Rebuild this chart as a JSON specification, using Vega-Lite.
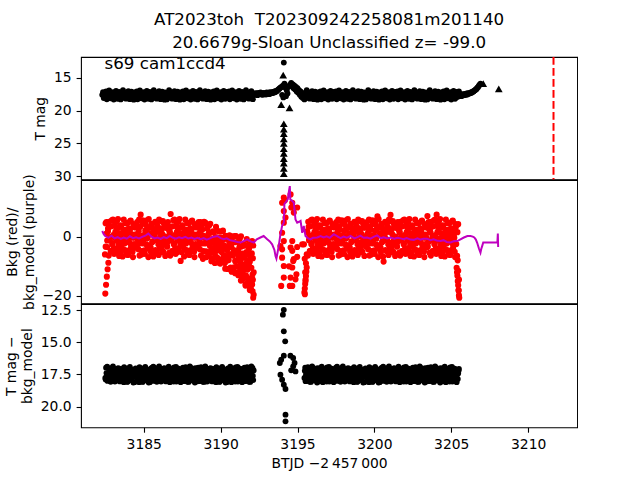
{
"$schema": "https://vega.github.io/schema/vega-lite/v6.json",
"padding": {"left": 3, "top": 10, "right": 0, "bottom": 0},
"spacing": 0,
"bounds": "flush",
"datasets": {
"lim": [
{"t":3194.07,"ul":14.6},{"t":3193.94,"ul":19.1},{"t":3194.48,"ul":19.6},
{"t":3194.11,"ul":22.0},{"t":3194.11,"ul":22.8},{"t":3194.11,"ul":23.5},{"t":3194.11,"ul":24.3},{"t":3194.11,"ul":25.0},{"t":3194.11,"ul":25.8},{"t":3194.11,"ul":26.5},{"t":3194.11,"ul":27.3},{"t":3194.11,"ul":28.0},{"t":3194.11,"ul":28.8},{"t":3194.11,"ul":29.6},
{"t":3207.08,"ul":15.9},{"t":3208.09,"ul":16.7}
],
"model": [
{"t":3182.3,"bm":1.9},{"t":3182.4,"bm":0.8},{"t":3182.5,"bm":0.2},{"t":3182.7,"bm":-0.4},{"t":3182.9,"bm":0.3},{"t":3183.1,"bm":-0.6},{"t":3183.3,"bm":-0.2},{"t":3183.5,"bm":-0.8},{"t":3183.7,"bm":-0.3},{"t":3183.9,"bm":-0.7},{"t":3184.1,"bm":0.1},{"t":3184.3,"bm":-0.5},{"t":3184.5,"bm":-0.2},{"t":3184.7,"bm":-0.6},{"t":3184.9,"bm":-0.1},{"t":3185.1,"bm":0.3},{"t":3185.3,"bm":1.0},{"t":3185.5,"bm":0.0},{"t":3185.7,"bm":-0.6},{"t":3185.9,"bm":-0.3},{"t":3186.1,"bm":-0.8},{"t":3186.3,"bm":-0.2},{"t":3186.5,"bm":-0.5},{"t":3186.7,"bm":0.2},{"t":3186.9,"bm":-0.4},{"t":3187.1,"bm":-0.7},{"t":3187.3,"bm":-0.2},{"t":3187.5,"bm":-0.5},{"t":3187.7,"bm":-0.1},{"t":3187.9,"bm":-0.6},{"t":3188.1,"bm":-0.3},{"t":3188.3,"bm":-0.8},{"t":3188.5,"bm":-0.4},{"t":3188.7,"bm":-0.9},{"t":3188.9,"bm":-0.5},{"t":3189.1,"bm":-1.0},{"t":3189.3,"bm":-0.6},{"t":3189.5,"bm":-0.1},{"t":3189.8,"bm":0.2},{"t":3190.0,"bm":-0.5},{"t":3190.2,"bm":-0.9},{"t":3190.4,"bm":-0.6},{"t":3190.6,"bm":-1.2},{"t":3190.86,"bm":-1.5},{"t":3191.1,"bm":-1.8},{"t":3191.3,"bm":-2.0},{"t":3191.5,"bm":-1.5},{"t":3191.73,"bm":-0.9},{"t":3191.95,"bm":-1.6},{"t":3192.16,"bm":-2.0},{"t":3192.35,"bm":-0.9},{"t":3192.59,"bm":-0.3},{"t":3192.8,"bm":0.2},{"t":3193.03,"bm":-0.9},{"t":3193.2,"bm":-1.6},{"t":3193.35,"bm":-2.6},{"t":3193.5,"bm":-4.5},{"t":3193.57,"bm":-6.5},{"t":3193.63,"bm":-7.4},{"t":3193.78,"bm":-3.2},{"t":3193.89,"bm":0.8},{"t":3194.0,"bm":3.6},{"t":3194.11,"bm":4.7},{"t":3194.15,"bm":11.0},{"t":3194.22,"bm":11.4},{"t":3194.37,"bm":12.6},{"t":3194.45,"bm":15.5},{"t":3194.5,"bm":17.0},{"t":3194.53,"bm":12.6},{"t":3194.66,"bm":12.0},{"t":3194.76,"bm":11.4},{"t":3194.87,"bm":5.8},{"t":3194.98,"bm":4.7},{"t":3195.1,"bm":5.0},{"t":3195.2,"bm":5.3},{"t":3195.31,"bm":1.3},{"t":3195.41,"bm":3.6},{"t":3195.52,"bm":0.2},{"t":3195.7,"bm":-0.6},{"t":3195.85,"bm":-0.9},{"t":3196.0,"bm":-0.4},{"t":3196.28,"bm":-0.3},{"t":3196.5,"bm":0.2},{"t":3196.7,"bm":-0.3},{"t":3196.9,"bm":0.1},{"t":3197.1,"bm":-0.4},{"t":3197.36,"bm":0.8},{"t":3197.6,"bm":0.1},{"t":3197.8,"bm":-0.5},{"t":3198.0,"bm":0.0},{"t":3198.2,"bm":-0.4},{"t":3198.45,"bm":0.2},{"t":3198.7,"bm":-0.6},{"t":3198.9,"bm":-0.2},{"t":3199.1,"bm":0.3},{"t":3199.3,"bm":-0.4},{"t":3199.53,"bm":-0.3},{"t":3199.75,"bm":-0.7},{"t":3199.95,"bm":-0.1},{"t":3200.18,"bm":0.4},{"t":3200.4,"bm":-0.5},{"t":3200.6,"bm":-0.2},{"t":3200.83,"bm":-0.6},{"t":3201.05,"bm":-0.3},{"t":3201.3,"bm":-0.7},{"t":3201.5,"bm":-0.4},{"t":3201.7,"bm":-0.6},{"t":3201.9,"bm":-0.9},{"t":3202.1,"bm":-0.5},{"t":3202.35,"bm":-1.0},{"t":3202.56,"bm":-1.1},{"t":3202.8,"bm":-0.6},{"t":3203.0,"bm":-1.0},{"t":3203.2,"bm":-0.7},{"t":3203.43,"bm":-0.7},{"t":3203.65,"bm":-1.2},{"t":3203.85,"bm":-0.9},{"t":3204.05,"bm":-1.3},{"t":3204.3,"bm":-1.5},{"t":3204.5,"bm":-1.2},{"t":3204.7,"bm":-1.8},{"t":3204.95,"bm":-2.0},{"t":3205.15,"bm":-1.6},{"t":3205.39,"bm":-1.5},{"t":3205.6,"bm":-0.9},{"t":3205.82,"bm":-0.3},{"t":3206.05,"bm":0.2},{"t":3206.25,"bm":0.2},{"t":3206.4,"bm":0.0},{"t":3206.5,"bm":-0.3},{"t":3206.6,"bm":-1.0},{"t":3206.68,"bm":-2.0},{"t":3206.8,"bm":-4.0},{"t":3206.9,"bm":-5.4},{"t":3206.95,"bm":-4.2},{"t":3207.01,"bm":-3.2},{"t":3207.08,"bm":-2.0},{"t":3207.5,"bm":-2.0},{"t":3208.0,"bm":-2.0},{"t":3208.03,"bm":1.0},{"t":3208.05,"bm":-3.5}
],
"obs": [
{"t":3182.3,"m":17.6},{"t":3182.35,"m":17.2},{"t":3182.4,"m":18.1},{"t":3182.45,"m":17.45},
{"t":3182.48,"b":-6.0},{"t":3182.52,"b":4.5},{"t":3182.58,"b":1.0},{"t":3182.62,"b":-3.5},{"t":3182.68,"b":2.8},
{"t":3182.5,"m":17.85,"b":-19.2,"d":17.77},
{"t":3182.55,"m":17.08,"b":-16.2,"d":16.97},
{"t":3182.6,"m":18.28,"b":-13.5,"d":17.58},
{"t":3182.65,"m":17.51,"b":-11,"d":18},
{"t":3182.7,"m":18.03,"b":-8.8,"d":17.46},
{"t":3182.75,"m":16.92,"b":5,"d":17.1},
{"t":3182.8,"m":17.67,"b":-1.2,"d":17.74},
{"t":3182.85,"m":18.12,"b":-4.9,"d":18.07},
{"t":3182.9,"m":17.31,"b":3.5,"d":17.28},
{"t":3182.95,"m":17.79,"b":-2.6,"d":17.51},
{"t":3183,"m":17.19,"b":5.7,"d":16.88},
{"t":3183.05,"m":18.33,"b":-3.9,"d":17.86},
{"t":3183.1,"m":17.42,"b":0.1,"d":17.61},
{"t":3183.15,"m":17.94,"b":1.5,"d":17.19},
{"t":3183.2,"m":16.99,"b":-5.2,"d":17.97},
{"t":3183.25,"m":17.71,"b":5.2,"d":17.37},
{"t":3183.3,"m":18.21,"b":-1.5,"d":17.8},
{"t":3183.35,"m":17.58,"b":3,"d":17.01},
{"t":3183.4,"m":17.15,"b":-6.5,"d":17.68},
{"t":3183.45,"m":17.91,"b":0,"d":18.04},
{"t":3183.5,"m":18.3,"b":3.8,"d":17.43},
{"t":3183.55,"m":17.36,"b":-3.2,"d":17.07},
{"t":3183.6,"m":17.64,"b":0.9,"d":17.88},
{"t":3183.65,"m":16.89,"b":-4.3,"d":17.29},
{"t":3183.7,"m":18.05,"b":5.7,"d":18.1},
{"t":3183.75,"m":17.76,"b":-2.3,"d":17.17},
{"t":3183.8,"m":17.25,"b":2.3,"d":17.56},
{"t":3183.85,"m":18.18,"b":-6,"d":17.7},
{"t":3183.9,"m":17.46,"b":0.3,"d":17.05},
{"t":3183.95,"m":17.97,"b":4.6,"d":18.05},
{"t":3184,"m":17.04,"b":-0.9,"d":17.41},
{"t":3184.05,"m":17.84,"b":-4.6,"d":17.84},
{"t":3184.1,"m":18.26,"b":2,"d":16.91},
{"t":3184.15,"m":17.54,"b":5.4,"d":17.54},
{"t":3184.2,"m":17.11,"b":-2.8,"d":17.92},
{"t":3184.25,"m":18.08,"b":-0.4,"d":17.24},
{"t":3184.3,"m":17.37,"b":-6.9,"d":17.64},
{"t":3184.35,"m":18.34,"b":3.2,"d":17.13},
{"t":3184.4,"m":17.23,"b":0.7,"d":18.1},
{"t":3184.45,"m":17.69,"b":-3.7,"d":17.33},
{"t":3184.5,"m":17.85,"b":3.8,"d":17.43},
{"t":3184.55,"m":17.08,"b":-3.2,"d":17.07},
{"t":3184.6,"m":18.28,"b":0.9,"d":17.88},
{"t":3184.65,"m":17.51,"b":-4.3,"d":17.29},
{"t":3184.7,"m":18.03,"b":5.7,"d":18.1},
{"t":3184.75,"m":16.92,"b":-2.3,"d":17.17},
{"t":3184.8,"m":17.67,"b":7.4,"d":17.56},
{"t":3184.85,"m":18.12,"b":-6,"d":17.7},
{"t":3184.9,"m":17.31,"b":0.3,"d":17.05},
{"t":3184.95,"m":17.79,"b":4.6,"d":18.05},
{"t":3185,"m":17.19,"b":-0.9,"d":17.41},
{"t":3185.05,"m":18.33,"b":-4.6,"d":17.84},
{"t":3185.1,"m":17.42,"b":2,"d":16.91},
{"t":3185.15,"m":17.94,"b":5.4,"d":17.54},
{"t":3185.2,"m":16.99,"b":-2.8,"d":17.92},
{"t":3185.25,"m":17.71,"b":-0.4,"d":17.24},
{"t":3185.3,"m":18.21,"b":-6.9,"d":17.64},
{"t":3185.35,"m":17.58,"b":3.2,"d":17.13},
{"t":3185.4,"m":17.15,"b":0.7,"d":18.1},
{"t":3185.45,"m":17.91,"b":-3.7,"d":17.33},
{"t":3185.5,"m":18.3,"b":4.3,"d":17.77},
{"t":3185.55,"m":17.36,"b":-1.9,"d":16.97},
{"t":3185.6,"m":17.64,"b":2.6,"d":17.58},
{"t":3185.65,"m":16.89,"b":-5.5,"d":18},
{"t":3185.7,"m":18.05,"b":1.4,"d":17.46},
{"t":3185.75,"m":17.76,"b":5,"d":17.1},
{"t":3185.8,"m":17.25,"b":-1.2,"d":17.74},
{"t":3185.85,"m":18.18,"b":-4.9,"d":18.07},
{"t":3185.9,"m":17.46,"b":3.5,"d":17.28},
{"t":3185.95,"m":17.97,"b":-2.6,"d":17.51},
{"t":3186,"m":17.04,"b":5.7,"d":16.88},
{"t":3186.05,"m":17.84,"b":-3.9,"d":17.86},
{"t":3186.1,"m":18.26,"b":0.1,"d":17.61},
{"t":3186.15,"m":17.54,"b":1.5,"d":17.19},
{"t":3186.2,"m":17.11,"b":-5.2,"d":17.97},
{"t":3186.25,"m":18.08,"b":5.2,"d":17.37},
{"t":3186.3,"m":17.37,"b":-1.5,"d":17.8},
{"t":3186.35,"m":18.34,"b":3,"d":17.01},
{"t":3186.4,"m":17.23,"b":-6.5,"d":17.68},
{"t":3186.45,"m":17.69,"b":0,"d":18.04},
{"t":3186.5,"m":18.3,"b":4.3,"d":17.43},
{"t":3186.55,"m":17.36,"b":-1.9,"d":17.07},
{"t":3186.6,"m":17.64,"b":2.6,"d":17.88},
{"t":3186.65,"m":16.89,"b":-5.5,"d":17.29},
{"t":3186.7,"m":18.05,"b":1.4,"d":18.1},
{"t":3186.75,"m":17.76,"b":7.6,"d":17.17},
{"t":3186.8,"m":17.25,"b":-1.2,"d":17.56},
{"t":3186.85,"m":18.18,"b":-4.9,"d":17.7},
{"t":3186.9,"m":17.46,"b":3.5,"d":17.05},
{"t":3186.95,"m":17.97,"b":-2.6,"d":18.05},
{"t":3187,"m":17.04,"b":5.7,"d":17.41},
{"t":3187.05,"m":17.84,"b":-3.9,"d":17.84},
{"t":3187.1,"m":18.26,"b":0.1,"d":16.91},
{"t":3187.15,"m":17.54,"b":1.5,"d":17.54},
{"t":3187.2,"m":17.11,"b":-5.2,"d":17.92},
{"t":3187.25,"m":18.08,"b":5.2,"d":17.24},
{"t":3187.3,"m":17.37,"b":-1.5,"d":17.64},
{"t":3187.35,"m":18.34,"b":3,"d":17.13},
{"t":3187.4,"m":17.23,"b":-8.2,"d":18.1},
{"t":3187.45,"m":17.69,"b":0,"d":17.33},
{"t":3187.5,"m":17.85,"b":3.8,"d":17.77},
{"t":3187.55,"m":17.08,"b":-3.2,"d":16.97},
{"t":3187.6,"m":18.28,"b":0.9,"d":17.58},
{"t":3187.65,"m":17.51,"b":-4.3,"d":18},
{"t":3187.7,"m":18.03,"b":5.7,"d":17.46},
{"t":3187.75,"m":16.92,"b":-2.3,"d":17.1},
{"t":3187.8,"m":17.67,"b":2.3,"d":17.74},
{"t":3187.85,"m":18.12,"b":-6,"d":18.07},
{"t":3187.9,"m":17.31,"b":0.3,"d":17.28},
{"t":3187.95,"m":17.79,"b":4.6,"d":17.51},
{"t":3188,"m":17.19,"b":-0.9,"d":16.88},
{"t":3188.05,"m":18.33,"b":-4.6,"d":17.86},
{"t":3188.1,"m":17.42,"b":2,"d":17.61},
{"t":3188.15,"m":17.94,"b":5.4,"d":17.19},
{"t":3188.2,"m":16.99,"b":-2.8,"d":17.97},
{"t":3188.25,"m":17.71,"b":-0.4,"d":17.37},
{"t":3188.3,"m":18.21,"b":-6.9,"d":17.8},
{"t":3188.35,"m":17.58,"b":3.2,"d":17.01},
{"t":3188.4,"m":17.15,"b":0.7,"d":17.68},
{"t":3188.45,"m":17.91,"b":-3.7,"d":18.04},
{"t":3188.5,"m":18.3,"b":3.8,"d":17.77},
{"t":3188.55,"m":17.36,"b":-3.2,"d":16.97},
{"t":3188.6,"m":17.64,"b":0.9,"d":17.58},
{"t":3188.65,"m":16.89,"b":-4.3,"d":18},
{"t":3188.7,"m":18.05,"b":4.9,"d":17.46},
{"t":3188.75,"m":17.76,"b":-2.3,"d":17.1},
{"t":3188.8,"m":17.25,"b":2.3,"d":17.74},
{"t":3188.85,"m":18.18,"b":-7.5,"d":18.07},
{"t":3188.9,"m":17.46,"b":0.3,"d":17.28},
{"t":3188.95,"m":17.97,"b":4.6,"d":17.51},
{"t":3189,"m":17.04,"b":4.7,"d":16.88},
{"t":3189.05,"m":17.84,"b":-5,"d":17.86},
{"t":3189.1,"m":18.26,"b":-1.1,"d":17.61},
{"t":3189.15,"m":17.54,"b":0.2,"d":17.19},
{"t":3189.2,"m":17.11,"b":-6.6,"d":17.97},
{"t":3189.25,"m":18.08,"b":3.7,"d":17.37},
{"t":3189.3,"m":17.37,"b":-3.1,"d":17.8},
{"t":3189.35,"m":18.34,"b":1.3,"d":17.01},
{"t":3189.4,"m":17.23,"b":-8.3,"d":17.68},
{"t":3189.45,"m":17.69,"b":-1.9,"d":18.04},
{"t":3189.5,"m":17.85,"b":1.8,"d":17.43},
{"t":3189.55,"m":17.08,"b":-5.3,"d":17.07},
{"t":3189.6,"m":18.28,"b":-1.3,"d":17.88},
{"t":3189.65,"m":17.51,"b":-6.6,"d":17.29},
{"t":3189.7,"m":18.03,"b":3.3,"d":18.1},
{"t":3189.75,"m":16.92,"b":-4.8,"d":17.17},
{"t":3189.8,"m":17.67,"b":-0.3,"d":17.56},
{"t":3189.85,"m":18.12,"b":-8.7,"d":17.7},
{"t":3189.9,"m":17.31,"b":-2.5,"d":17.05},
{"t":3189.95,"m":17.79,"b":1.7,"d":18.05},
{"t":3190,"m":17.19,"b":-3.9,"d":17.41},
{"t":3190.05,"m":18.33,"b":-7.7,"d":17.84},
{"t":3190.1,"m":17.42,"b":-1.3,"d":16.91},
{"t":3190.15,"m":17.94,"b":2,"d":17.54},
{"t":3190.2,"m":16.99,"b":-6.3,"d":17.92},
{"t":3190.25,"m":17.71,"b":-4.1,"d":17.24},
{"t":3190.3,"m":18.21,"b":-10.8,"d":17.64},
{"t":3190.35,"m":17.58,"b":-0.7,"d":17.13},
{"t":3190.4,"m":17.15,"b":-3.4,"d":18.1},
{"t":3190.45,"m":17.91,"b":-8,"d":17.33},
{"t":3190.5,"m":17.85,"b":0,"d":17.43},
{"t":3190.55,"m":17.08,"b":-6.4,"d":17.07},
{"t":3190.6,"m":18.28,"b":-2,"d":17.88},
{"t":3190.65,"m":17.51,"b":-10.4,"d":17.29},
{"t":3190.7,"m":18.03,"b":-3.5,"d":18.1},
{"t":3190.75,"m":16.92,"b":0.1,"d":17.17},
{"t":3190.8,"m":17.67,"b":-6.4,"d":17.56},
{"t":3190.85,"m":18.12,"b":-10.4,"d":17.7},
{"t":3190.9,"m":17.31,"b":-1.9,"d":17.05},
{"t":3190.95,"m":17.79,"b":-8.3,"d":18.05},
{"t":3191,"m":17.19,"b":0.2,"d":17.41},
{"t":3191.05,"m":18.33,"b":-10,"d":17.84},
{"t":3191.1,"m":17.42,"b":-5.9,"d":16.91},
{"t":3191.15,"m":17.94,"b":-4.5,"d":17.54},
{"t":3191.2,"m":16.99,"b":-12,"d":17.92},
{"t":3191.25,"m":17.71,"b":-0.6,"d":17.24},
{"t":3191.3,"m":18.21,"b":-8.3,"d":17.64},
{"t":3191.35,"m":17.58,"b":-3.3,"d":17.13},
{"t":3191.4,"m":17.15,"b":-14.5,"d":18.1},
{"t":3191.45,"m":17.91,"b":-7.1,"d":17.33},
{"t":3191.5,"m":18.3,"b":-2.6,"d":17.77},
{"t":3191.55,"m":17.36,"b":-11.2,"d":16.97},
{"t":3191.6,"m":17.64,"b":-6.4,"d":17.58},
{"t":3191.65,"m":16.89,"b":-13.1,"d":18},
{"t":3191.7,"m":18.05,"b":-0.8,"d":17.46},
{"t":3191.75,"m":17.76,"b":-11.1,"d":17.1},
{"t":3191.8,"m":17.25,"b":-5.4,"d":17.74},
{"t":3191.85,"m":18.18,"b":-16.6,"d":18.07},
{"t":3191.9,"m":17.46,"b":-8.5,"d":17.28},
{"t":3191.95,"m":17.97,"b":-2.8,"d":17.51},
{"t":3192,"m":17.04,"b":-10.5,"d":16.88},
{"t":3192.05,"m":17.84,"b":-16.1,"d":17.86},
{"t":3192.1,"m":18.26,"b":-7.3,"d":17.61},
{"t":3192.15,"m":17.54,"b":-19.6,"d":17.19},
{"t":3182.525,"b":-3.4,"d":17.89},{"t":3182.575,"b":4.9,"d":17.39},{"t":3182.625,"b":-1.3,"d":16.9},{"t":3182.675,"b":1.8,"d":17.76},{"t":3182.725,"b":-6.4,"d":17.55},{"t":3182.775,"b":3.3,"d":17.11},{"t":3182.825,"b":-0.2,"d":17.99},{"t":3182.875,"b":-4.9,"d":17.45},{"t":3182.925,"b":5.5,"d":17.71},{"t":3182.975,"b":-2.3,"d":16.95},
{"t":3183.025,"b":0.5,"d":17.82},{"t":3183.075,"b":-5.8,"d":17.35},{"t":3183.125,"b":4.0,"d":18.05},{"t":3183.175,"b":-0.7,"d":17.19},{"t":3183.225,"b":2.6,"d":17.62},{"t":3183.275,"b":-4.1,"d":17.05},{"t":3183.325,"b":5.9,"d":17.95},{"t":3183.375,"b":-3.0,"d":17.3},{"t":3183.425,"b":1.1,"d":17.51},{"t":3183.475,"b":-5.3,"d":17.85},
{"t":3183.525,"b":3.5,"d":17.22},{"t":3183.575,"b":-1.6,"d":18.02},{"t":3183.625,"b":-6.7,"d":17.42},{"t":3183.675,"b":2.2,"d":17.73},{"t":3183.725,"b":0.0,"d":16.93},{"t":3183.775,"b":-4.5,"d":17.87},{"t":3183.825,"b":4.5,"d":17.53},{"t":3183.875,"b":-1.0,"d":17.08},{"t":3183.925,"b":1.6,"d":18.08},{"t":3183.975,"b":-6.2,"d":17.32},
{"t":3184.025,"b":2.8,"d":17.59},{"t":3184.075,"b":-2.1,"d":16.99},{"t":3184.125,"b":5.2,"d":17.93},{"t":3184.175,"b":-3.7,"d":17.48},{"t":3184.225,"b":0.7,"d":17.8},{"t":3184.275,"b":-5.1,"d":17.15},{"t":3184.325,"b":4.2,"d":18.12},{"t":3184.375,"b":-2.5,"d":17.26},{"t":3184.425,"b":-0.4,"d":17.65},{"t":3184.475,"b":3.1,"d":17.03},
{"t":3184.525,"b":-3.4,"d":17.22},{"t":3184.575,"b":4.9,"d":18.02},{"t":3184.625,"b":-1.3,"d":17.42},{"t":3184.675,"b":1.8,"d":17.73},{"t":3184.725,"b":-6.4,"d":16.93},{"t":3184.775,"b":3.3,"d":17.87},{"t":3184.825,"b":-0.2,"d":17.53},{"t":3184.875,"b":-4.9,"d":17.08},{"t":3184.925,"b":5.5,"d":18.08},{"t":3184.975,"b":-2.3,"d":17.32},
{"t":3185.025,"b":0.5,"d":17.59},{"t":3185.075,"b":-5.8,"d":16.99},{"t":3185.125,"b":4.0,"d":17.93},{"t":3185.175,"b":-0.7,"d":17.48},{"t":3185.225,"b":2.6,"d":17.8},{"t":3185.275,"b":-4.1,"d":17.15},{"t":3185.325,"b":5.9,"d":18.12},{"t":3185.375,"b":-3.0,"d":17.26},{"t":3185.425,"b":1.1,"d":17.65},{"t":3185.475,"b":-5.3,"d":17.03},
{"t":3185.525,"b":3.5,"d":17.89},{"t":3185.575,"b":-1.6,"d":17.39},{"t":3185.625,"b":-6.7,"d":16.9},{"t":3185.675,"b":2.2,"d":17.76},{"t":3185.725,"b":0.0,"d":17.55},{"t":3185.775,"b":-4.5,"d":17.11},{"t":3185.825,"b":4.5,"d":17.99},{"t":3185.875,"b":-1.0,"d":17.45},{"t":3185.925,"b":1.6,"d":17.71},{"t":3185.975,"b":-6.2,"d":16.95},
{"t":3186.025,"b":2.8,"d":17.82},{"t":3186.075,"b":-2.1,"d":17.35},{"t":3186.125,"b":5.2,"d":18.05},{"t":3186.175,"b":-3.7,"d":17.19},{"t":3186.225,"b":0.7,"d":17.62},{"t":3186.275,"b":-5.1,"d":17.05},{"t":3186.325,"b":4.2,"d":17.95},{"t":3186.375,"b":-2.5,"d":17.3},{"t":3186.425,"b":-0.4,"d":17.51},{"t":3186.475,"b":3.1,"d":17.85},
{"t":3186.525,"b":-3.4,"d":17.89},{"t":3186.575,"b":4.9,"d":17.39},{"t":3186.625,"b":-1.3,"d":16.9},{"t":3186.675,"b":1.8,"d":17.76},{"t":3186.725,"b":-6.4,"d":17.55},{"t":3186.775,"b":3.3,"d":17.11},{"t":3186.825,"b":-0.2,"d":17.99},{"t":3186.875,"b":-4.9,"d":17.45},{"t":3186.925,"b":5.5,"d":17.71},{"t":3186.975,"b":-2.3,"d":16.95},
{"t":3187.025,"b":0.5,"d":17.82},{"t":3187.075,"b":-5.8,"d":17.35},{"t":3187.125,"b":4.0,"d":18.05},{"t":3187.175,"b":-0.7,"d":17.19},{"t":3187.225,"b":2.6,"d":17.62},{"t":3187.275,"b":-4.1,"d":17.05},{"t":3187.325,"b":5.9,"d":17.95},{"t":3187.375,"b":-3.0,"d":17.3},{"t":3187.425,"b":1.1,"d":17.51},{"t":3187.475,"b":-5.3,"d":17.85},
{"t":3187.525,"b":3.5,"d":17.22},{"t":3187.575,"b":-1.6,"d":18.02},{"t":3187.625,"b":-6.7,"d":17.42},{"t":3187.675,"b":2.2,"d":17.73},{"t":3187.725,"b":0.0,"d":16.93},{"t":3187.775,"b":-4.5,"d":17.87},{"t":3187.825,"b":4.5,"d":17.53},{"t":3187.875,"b":-1.0,"d":17.08},{"t":3187.925,"b":1.6,"d":18.08},{"t":3187.975,"b":-6.2,"d":17.32},
{"t":3188.025,"b":2.8,"d":17.59},{"t":3188.075,"b":-2.1,"d":16.99},{"t":3188.125,"b":5.2,"d":17.93},{"t":3188.175,"b":-3.7,"d":17.48},{"t":3188.225,"b":0.7,"d":17.8},{"t":3188.275,"b":-5.1,"d":17.15},{"t":3188.325,"b":4.2,"d":18.12},{"t":3188.375,"b":-2.5,"d":17.26},{"t":3188.425,"b":-0.4,"d":17.65},{"t":3188.475,"b":3.1,"d":17.03},
{"t":3188.525,"b":-3.4,"d":17.22},{"t":3188.575,"b":4.9,"d":18.02},{"t":3188.625,"b":-1.3,"d":17.42},{"t":3188.675,"b":1.8,"d":17.73},{"t":3188.725,"b":-6.4,"d":16.93},{"t":3188.775,"b":3.3,"d":17.87},{"t":3188.825,"b":-0.2,"d":17.53},{"t":3188.875,"b":-4.9,"d":17.08},{"t":3188.925,"b":5.0,"d":18.08},{"t":3188.975,"b":-2.3,"d":17.32},
{"t":3189.025,"b":-0.6,"d":17.82},{"t":3189.075,"b":-6.9,"d":17.35},{"t":3189.125,"b":2.7,"d":18.05},{"t":3189.175,"b":-2.0,"d":17.19},{"t":3189.225,"b":1.1,"d":17.62},{"t":3189.275,"b":-5.7,"d":17.05},{"t":3189.325,"b":4.3,"d":17.95},{"t":3189.375,"b":-4.7,"d":17.3},{"t":3189.425,"b":-0.8,"d":17.51},{"t":3189.475,"b":-7.3,"d":17.85},
{"t":3189.525,"b":1.5,"d":17.22},{"t":3189.575,"b":-3.8,"d":18.02},{"t":3189.625,"b":-8.9,"d":17.42},{"t":3189.675,"b":-0.2,"d":17.73},{"t":3189.725,"b":-2.4,"d":16.93},{"t":3189.775,"b":-7.1,"d":17.87},{"t":3189.825,"b":1.9,"d":17.53},{"t":3189.875,"b":-3.8,"d":17.08},{"t":3189.925,"b":-1.2,"d":18.08},{"t":3189.975,"b":-9.1,"d":17.32},
{"t":3190.025,"b":-0.3,"d":17.59},{"t":3190.075,"b":-5.3,"d":16.99},{"t":3190.125,"b":1.8,"d":17.93},{"t":3190.175,"b":-7.2,"d":17.48},{"t":3190.225,"b":-2.9,"d":17.8},{"t":3190.275,"b":-8.9,"d":17.15},{"t":3190.325,"b":0.3,"d":18.12},{"t":3190.375,"b":-6.6,"d":17.26},{"t":3190.425,"b":-4.6,"d":17.65},{"t":3190.475,"b":-1.1,"d":17.03},
{"t":3190.525,"b":-7.9,"d":17.89},{"t":3190.575,"b":0.4,"d":17.39},{"t":3190.625,"b":-6.0,"d":16.9},{"t":3190.675,"b":-2.9,"d":17.76},{"t":3190.725,"b":-11.6,"d":17.55},{"t":3190.775,"b":-1.8,"d":17.11},{"t":3190.825,"b":-5.5,"d":17.99},{"t":3190.875,"b":-10.4,"d":17.45},{"t":3190.925,"b":0.2,"d":17.71},{"t":3190.975,"b":-8.1,"d":16.95},
{"t":3191.025,"b":-5.3,"d":17.82},{"t":3191.075,"b":-12.1,"d":17.35},{"t":3191.125,"b":-1.8,"d":18.05},{"t":3191.175,"b":-7.0,"d":17.19},{"t":3191.225,"b":-3.5,"d":17.62},{"t":3191.275,"b":-11.2,"d":17.05},{"t":3191.325,"b":0.1,"d":17.95},{"t":3191.375,"b":-10.2,"d":17.3},{"t":3191.425,"b":-5.7,"d":17.51},{"t":3191.475,"b":-13.4,"d":17.85},
{"t":3191.525,"b":-3.0,"d":17.22},{"t":3191.575,"b":-9.4,"d":18.02},{"t":3191.625,"b":-16.0,"d":17.42},{"t":3191.675,"b":-5.2,"d":17.73},{"t":3191.725,"b":-8.1,"d":16.93},{"t":3191.775,"b":-14.2,"d":17.87},{"t":3191.825,"b":-2.6,"d":17.53},{"t":3191.875,"b":-10.1,"d":17.08},{"t":3191.925,"b":-6.8,"d":18.08},{"t":3191.975,"b":-17.7,"d":17.32},
{"t":3192.025,"b":-5.6,"d":17.59},{"t":3192.075,"b":-12.8,"d":16.99},{"t":3192.125,"b":-3.0,"d":17.93},
{"t":3192.12,"b":-20.6},{"t":3192.08,"b":-18.4},{"t":3191.98,"b":-14},{"t":3191.9,"b":-18},{"t":3191.78,"b":-15.2},{"t":3191.62,"b":-16.5},{"t":3191.45,"b":-12.8},{"t":3191.32,"b":-14.8},{"t":3191.15,"b":-13},{"t":3190.95,"b":-12.3},{"t":3190.72,"b":-11.8},{"t":3190.45,"b":-10.9},{"t":3191.55,"b":-3},{"t":3191.85,"b":-4},{"t":3192.05,"b":-1.5},{"t":3191.25,"b":-9.8},{"t":3190.85,"b":-4.5},{"t":3191.7,"b":-9},{"t":3192,"b":-6},{"t":3192.15,"b":-12},{"t":3192.1,"b":-14.5},
{"t":3192.2,"m":17.6},{"t":3192.25,"m":17.35},{"t":3192.3,"m":17.55},{"t":3192.35,"m":17.4},{"t":3192.4,"m":17.65},{"t":3192.45,"m":17.3},{"t":3192.5,"m":17.5},{"t":3192.55,"m":17.45},{"t":3192.6,"m":17.25},{"t":3192.65,"m":17.55},{"t":3192.7,"m":17.4},{"t":3192.75,"m":17.6},{"t":3192.8,"m":17.3},{"t":3192.85,"m":17.45},{"t":3192.9,"m":17.35},{"t":3192.95,"m":17.55},{"t":3193,"m":17.25},{"t":3193.05,"m":17.45},{"t":3193.1,"m":17.3},{"t":3193.15,"m":17.5},{"t":3193.2,"m":17.2},{"t":3193.25,"m":17.4},{"t":3193.3,"m":17.25},{"t":3193.35,"m":17.35},{"t":3193.4,"m":17.15},{"t":3193.45,"m":17.3},{"t":3193.5,"m":17.1},{"t":3193.55,"m":17.2},{"t":3193.6,"m":17},{"t":3193.65,"m":17.05},{"t":3193.7,"m":16.9},{"t":3193.75,"m":16.8},{"t":3193.8,"m":16.7},{"t":3193.85,"m":16.6},{"t":3193.9,"m":16.5},{"t":3193.95,"m":16.4},
{"t":3194.11,"m":12.7},{"t":3194.15,"m":15.9},{"t":3194.05,"m":16.2},{"t":3194.2,"m":16.5},{"t":3194.3,"m":16.9},{"t":3194.4,"m":16.4},{"t":3194.5,"m":16.1},{"t":3194.59,"m":15.8},{"t":3194.65,"m":16.3},{"t":3194.7,"m":16},{"t":3194.75,"m":16.6},{"t":3194.8,"m":16.2},{"t":3194.85,"m":16.8},{"t":3194.9,"m":16.4},{"t":3194.95,"m":17.1},{"t":3195,"m":16.6},{"t":3195.05,"m":17.3},{"t":3195.1,"m":16.9},{"t":3195.15,"m":17.6},{"t":3195.2,"m":17.1},{"t":3195.25,"m":17.9},{"t":3195.3,"m":17.3},{"t":3195.35,"m":18.1},{"t":3195.4,"m":17.5},{"t":3194,"m":17.6},{"t":3194.08,"m":18},{"t":3194.25,"m":17.8},{"t":3194.35,"m":17.4},
{"t":3193.89,"b":-3.2},{"t":3193.94,"b":-16.6},{"t":3194,"b":11.4},{"t":3194,"b":1.3},{"t":3194,"b":-4.3},{"t":3194,"b":-7.1},{"t":3194.11,"b":13.1},{"t":3194.11,"b":8.6},{"t":3194.11,"b":4.7},{"t":3194.11,"b":-1.5},{"t":3194.11,"b":-9.9},{"t":3194.11,"b":-13.8},{"t":3194.18,"b":12.2},{"t":3194.22,"b":6.4},{"t":3194.45,"b":-10},{"t":3194.5,"b":-16.6},{"t":3194.55,"b":14.2},{"t":3194.55,"b":-3.7},{"t":3194.55,"b":-13.8},{"t":3194.6,"b":9.8},{"t":3194.66,"b":11.4},{"t":3194.66,"b":-1.5},{"t":3194.66,"b":-4.8},{"t":3194.66,"b":-10.4},{"t":3194.66,"b":-16.6},{"t":3194.72,"b":-8.2},{"t":3194.76,"b":8.1},{"t":3194.76,"b":-7.6},{"t":3194.87,"b":-14.4},{"t":3194.93,"b":-12.7},{"t":3194.98,"b":9.8},{"t":3194.98,"b":-3.5},{"t":3194.98,"b":-6.8},{"t":3195.31,"b":-2.6},
{"t":3194.11,"d":12.48},{"t":3194.05,"d":12.86},{"t":3194.11,"d":14.15},{"t":3194.2,"d":14.93},{"t":3194.11,"d":16.04},{"t":3193.94,"d":16.35},{"t":3193.85,"d":16.61},{"t":3194.54,"d":16.04},{"t":3194.72,"d":16.22},{"t":3194.81,"d":16.61},{"t":3194.72,"d":16.87},{"t":3194.59,"d":17.18},{"t":3194.87,"d":17.26},{"t":3193.89,"d":17.52},{"t":3194,"d":17.91},{"t":3194.11,"d":18.29},{"t":3194.22,"d":18.63},{"t":3194.22,"d":20.62},{"t":3194.22,"d":21.14},
{"t":3195.48,"b":-19.4},{"t":3195.52,"b":-15},{"t":3195.5,"b":-12},{"t":3195.55,"b":-9},{"t":3195.42,"b":-2.6},{"t":3195.47,"b":-7.5},{"t":3195.6,"b":-6},
{"t":3195.45,"m":18.3,"b":-18.8,"d":17.77},
{"t":3195.5,"m":17.36,"b":-16,"d":16.97},
{"t":3195.55,"m":17.64,"b":-13.3,"d":17.58},
{"t":3195.6,"m":16.89,"b":-10.4,"d":18},
{"t":3195.65,"m":18.05,"b":1.4,"d":17.46},
{"t":3195.7,"m":17.76,"b":5,"d":17.1},
{"t":3195.75,"m":17.25,"b":-1.2,"d":17.74},
{"t":3195.8,"m":18.18,"b":-4.9,"d":18.07},
{"t":3195.85,"m":17.46,"b":3.5,"d":17.28},
{"t":3195.9,"m":17.97,"b":-2.6,"d":17.51},
{"t":3195.95,"m":17.04,"b":5.7,"d":16.88},
{"t":3196,"m":17.84,"b":-3.9,"d":17.86},
{"t":3196.05,"m":18.26,"b":0.1,"d":17.61},
{"t":3196.1,"m":17.54,"b":1.5,"d":17.19},
{"t":3196.15,"m":17.11,"b":-5.2,"d":17.97},
{"t":3196.2,"m":18.08,"b":5.2,"d":17.37},
{"t":3196.25,"m":17.37,"b":-1.5,"d":17.8},
{"t":3196.3,"m":18.34,"b":3,"d":17.01},
{"t":3196.35,"m":17.23,"b":-6.5,"d":17.68},
{"t":3196.4,"m":17.69,"b":0,"d":18.04},
{"t":3196.45,"m":17.85,"b":3.8,"d":17.43},
{"t":3196.5,"m":17.08,"b":-3.2,"d":17.07},
{"t":3196.55,"m":18.28,"b":0.9,"d":17.88},
{"t":3196.6,"m":17.51,"b":-4.3,"d":17.29},
{"t":3196.65,"m":18.03,"b":5.7,"d":18.1},
{"t":3196.7,"m":16.92,"b":-2.3,"d":17.17},
{"t":3196.75,"m":17.67,"b":2.3,"d":17.56},
{"t":3196.8,"m":18.12,"b":-6,"d":17.7},
{"t":3196.85,"m":17.31,"b":0.3,"d":17.05},
{"t":3196.9,"m":17.79,"b":4.6,"d":18.05},
{"t":3196.95,"m":17.19,"b":-0.9,"d":17.41},
{"t":3197,"m":18.33,"b":-4.6,"d":17.84},
{"t":3197.05,"m":17.42,"b":2,"d":16.91},
{"t":3197.1,"m":17.94,"b":5.4,"d":17.54},
{"t":3197.15,"m":16.99,"b":-2.8,"d":17.92},
{"t":3197.2,"m":17.71,"b":-0.4,"d":17.24},
{"t":3197.25,"m":18.21,"b":-6.9,"d":17.64},
{"t":3197.3,"m":17.58,"b":3.2,"d":17.13},
{"t":3197.35,"m":17.15,"b":0.7,"d":18.1},
{"t":3197.4,"m":17.91,"b":-3.7,"d":17.33},
{"t":3197.45,"m":17.85,"b":3.8,"d":17.77},
{"t":3197.5,"m":17.08,"b":-3.2,"d":16.97},
{"t":3197.55,"m":18.28,"b":0.9,"d":17.58},
{"t":3197.6,"m":17.51,"b":-4.3,"d":18},
{"t":3197.65,"m":18.03,"b":5.7,"d":17.46},
{"t":3197.7,"m":16.92,"b":-2.3,"d":17.1},
{"t":3197.75,"m":17.67,"b":2.3,"d":17.74},
{"t":3197.8,"m":18.12,"b":-6,"d":18.07},
{"t":3197.85,"m":17.31,"b":0.3,"d":17.28},
{"t":3197.9,"m":17.79,"b":4.6,"d":17.51},
{"t":3197.95,"m":17.19,"b":-0.9,"d":16.88},
{"t":3198,"m":18.33,"b":-4.6,"d":17.86},
{"t":3198.05,"m":17.42,"b":2,"d":17.61},
{"t":3198.1,"m":17.94,"b":5.4,"d":17.19},
{"t":3198.15,"m":16.99,"b":-2.8,"d":17.97},
{"t":3198.2,"m":17.71,"b":-0.4,"d":17.37},
{"t":3198.25,"m":18.21,"b":-6.9,"d":17.8},
{"t":3198.3,"m":17.58,"b":3.2,"d":17.01},
{"t":3198.35,"m":17.15,"b":0.7,"d":17.68},
{"t":3198.4,"m":17.91,"b":-3.7,"d":18.04},
{"t":3198.45,"m":18.3,"b":4.3,"d":17.43},
{"t":3198.5,"m":17.36,"b":-1.9,"d":17.07},
{"t":3198.55,"m":17.64,"b":2.6,"d":17.88},
{"t":3198.6,"m":16.89,"b":-5.5,"d":17.29},
{"t":3198.65,"m":18.05,"b":1.4,"d":18.1},
{"t":3198.7,"m":17.76,"b":5,"d":17.17},
{"t":3198.75,"m":17.25,"b":-1.2,"d":17.56},
{"t":3198.8,"m":18.18,"b":-4.9,"d":17.7},
{"t":3198.85,"m":17.46,"b":3.5,"d":17.05},
{"t":3198.9,"m":17.97,"b":-2.6,"d":18.05},
{"t":3198.95,"m":17.04,"b":5.7,"d":17.41},
{"t":3199,"m":17.84,"b":-3.9,"d":17.84},
{"t":3199.05,"m":18.26,"b":0.1,"d":16.91},
{"t":3199.1,"m":17.54,"b":1.5,"d":17.54},
{"t":3199.15,"m":17.11,"b":-5.2,"d":17.92},
{"t":3199.2,"m":18.08,"b":5.2,"d":17.24},
{"t":3199.25,"m":17.37,"b":-1.5,"d":17.64},
{"t":3199.3,"m":18.34,"b":3,"d":17.13},
{"t":3199.35,"m":17.23,"b":-6.5,"d":18.1},
{"t":3199.4,"m":17.69,"b":0,"d":17.33},
{"t":3199.45,"m":18.3,"b":3.8,"d":17.43},
{"t":3199.5,"m":17.36,"b":-3.2,"d":17.07},
{"t":3199.55,"m":17.64,"b":0.9,"d":17.88},
{"t":3199.6,"m":16.89,"b":-4.3,"d":17.29},
{"t":3199.65,"m":18.05,"b":5.7,"d":18.1},
{"t":3199.7,"m":17.76,"b":-2.3,"d":17.17},
{"t":3199.75,"m":17.25,"b":2.3,"d":17.56},
{"t":3199.8,"m":18.18,"b":-6,"d":17.7},
{"t":3199.85,"m":17.46,"b":0.3,"d":17.05},
{"t":3199.9,"m":17.97,"b":4.6,"d":18.05},
{"t":3199.95,"m":17.04,"b":-0.9,"d":17.41},
{"t":3200,"m":17.84,"b":-4.6,"d":17.84},
{"t":3200.05,"m":18.26,"b":2,"d":16.91},
{"t":3200.1,"m":17.54,"b":5.4,"d":17.54},
{"t":3200.15,"m":17.11,"b":-2.8,"d":17.92},
{"t":3200.2,"m":18.08,"b":6.8,"d":17.24},
{"t":3200.25,"m":17.37,"b":-6.9,"d":17.64},
{"t":3200.3,"m":18.34,"b":3.2,"d":17.13},
{"t":3200.35,"m":17.23,"b":0.7,"d":18.1},
{"t":3200.4,"m":17.69,"b":-3.7,"d":17.33},
{"t":3200.45,"m":17.85,"b":4.3,"d":17.77},
{"t":3200.5,"m":17.08,"b":-1.9,"d":16.97},
{"t":3200.55,"m":18.28,"b":2.6,"d":17.58},
{"t":3200.6,"m":17.51,"b":-8.4,"d":18},
{"t":3200.65,"m":18.03,"b":1.4,"d":17.46},
{"t":3200.7,"m":16.92,"b":5,"d":17.1},
{"t":3200.75,"m":17.67,"b":-1.2,"d":17.74},
{"t":3200.8,"m":18.12,"b":-4.9,"d":18.07},
{"t":3200.85,"m":17.31,"b":3.5,"d":17.28},
{"t":3200.9,"m":17.79,"b":-2.6,"d":17.51},
{"t":3200.95,"m":17.19,"b":5.7,"d":16.88},
{"t":3201,"m":18.33,"b":-3.9,"d":17.86},
{"t":3201.05,"m":17.42,"b":7.3,"d":17.61},
{"t":3201.1,"m":17.94,"b":1.5,"d":17.19},
{"t":3201.15,"m":16.99,"b":-5.2,"d":17.97},
{"t":3201.2,"m":17.71,"b":5.2,"d":17.37},
{"t":3201.25,"m":18.21,"b":-1.5,"d":17.8},
{"t":3201.3,"m":17.58,"b":3,"d":17.01},
{"t":3201.35,"m":17.15,"b":-6.5,"d":17.68},
{"t":3201.4,"m":17.91,"b":0,"d":18.04},
{"t":3201.45,"m":17.85,"b":4.3,"d":17.43},
{"t":3201.5,"m":17.08,"b":-1.9,"d":17.07},
{"t":3201.55,"m":18.28,"b":2.6,"d":17.88},
{"t":3201.6,"m":17.51,"b":-5.5,"d":17.29},
{"t":3201.65,"m":18.03,"b":1.4,"d":18.1},
{"t":3201.7,"m":16.92,"b":5,"d":17.17},
{"t":3201.75,"m":17.67,"b":-1.2,"d":17.56},
{"t":3201.8,"m":18.12,"b":-4.9,"d":17.7},
{"t":3201.85,"m":17.31,"b":3.5,"d":17.05},
{"t":3201.9,"m":17.79,"b":-2.6,"d":18.05},
{"t":3201.95,"m":17.19,"b":5.7,"d":17.41},
{"t":3202,"m":18.33,"b":-3.9,"d":17.84},
{"t":3202.05,"m":17.42,"b":0.1,"d":16.91},
{"t":3202.1,"m":17.94,"b":1.5,"d":17.54},
{"t":3202.15,"m":16.99,"b":-5.2,"d":17.92},
{"t":3202.2,"m":17.71,"b":5.2,"d":17.24},
{"t":3202.25,"m":18.21,"b":-1.5,"d":17.64},
{"t":3202.3,"m":17.58,"b":3,"d":17.13},
{"t":3202.35,"m":17.15,"b":-6.5,"d":18.1},
{"t":3202.4,"m":17.91,"b":0,"d":17.33},
{"t":3202.45,"m":18.3,"b":3.8,"d":17.77},
{"t":3202.5,"m":17.36,"b":-3.2,"d":16.97},
{"t":3202.55,"m":17.64,"b":0.9,"d":17.58},
{"t":3202.6,"m":16.89,"b":-4.3,"d":18},
{"t":3202.65,"m":18.05,"b":5.7,"d":17.46},
{"t":3202.7,"m":17.76,"b":-2.3,"d":17.1},
{"t":3202.75,"m":17.25,"b":2.3,"d":17.74},
{"t":3202.8,"m":18.18,"b":-6,"d":18.07},
{"t":3202.85,"m":17.46,"b":0.3,"d":17.28},
{"t":3202.9,"m":17.97,"b":4.6,"d":17.51},
{"t":3202.95,"m":17.04,"b":-0.9,"d":16.88},
{"t":3203,"m":17.84,"b":-4.6,"d":17.86},
{"t":3203.05,"m":18.26,"b":2,"d":17.61},
{"t":3203.1,"m":17.54,"b":5.4,"d":17.19},
{"t":3203.15,"m":17.11,"b":-2.8,"d":17.97},
{"t":3203.2,"m":18.08,"b":-0.4,"d":17.37},
{"t":3203.25,"m":17.37,"b":-6.9,"d":17.8},
{"t":3203.3,"m":18.34,"b":3.2,"d":17.01},
{"t":3203.35,"m":17.23,"b":0.7,"d":17.68},
{"t":3203.4,"m":17.69,"b":-3.7,"d":18.04},
{"t":3203.45,"m":18.3,"b":6.9,"d":17.77},
{"t":3203.5,"m":17.36,"b":-1.9,"d":16.97},
{"t":3203.55,"m":17.64,"b":2.6,"d":17.58},
{"t":3203.6,"m":16.89,"b":-5.5,"d":18},
{"t":3203.65,"m":18.05,"b":1.4,"d":17.46},
{"t":3203.7,"m":17.76,"b":5,"d":17.1},
{"t":3203.75,"m":17.25,"b":-1.2,"d":17.74},
{"t":3203.8,"m":18.18,"b":-4.9,"d":18.07},
{"t":3203.85,"m":17.46,"b":3.5,"d":17.28},
{"t":3203.9,"m":17.97,"b":-2.6,"d":17.51},
{"t":3203.95,"m":17.04,"b":5.7,"d":16.88},
{"t":3204,"m":17.84,"b":-3.9,"d":17.86},
{"t":3204.05,"m":18.26,"b":7.4,"d":17.61},
{"t":3204.1,"m":17.54,"b":1.5,"d":17.19},
{"t":3204.15,"m":17.11,"b":-5.2,"d":17.97},
{"t":3204.2,"m":18.08,"b":5.2,"d":17.37},
{"t":3204.25,"m":17.37,"b":-1.5,"d":17.8},
{"t":3204.3,"m":18.34,"b":3,"d":17.01},
{"t":3204.35,"m":17.23,"b":-6.5,"d":17.68},
{"t":3204.4,"m":17.69,"b":0,"d":18.04},
{"t":3204.45,"m":17.85,"b":3.8,"d":17.43},
{"t":3204.5,"m":17.08,"b":-3.2,"d":17.07},
{"t":3204.55,"m":18.28,"b":0.9,"d":17.88},
{"t":3204.6,"m":17.51,"b":-4.3,"d":17.29},
{"t":3204.65,"m":18.03,"b":5.7,"d":18.1},
{"t":3204.7,"m":16.92,"b":-2.3,"d":17.17},
{"t":3204.75,"m":17.67,"b":2.3,"d":17.56},
{"t":3204.8,"m":18.12,"b":-6,"d":17.7},
{"t":3204.85,"m":17.31,"b":0.3,"d":17.05},
{"t":3204.9,"m":17.79,"b":4.6,"d":18.05},
{"t":3204.95,"m":17.19,"b":-0.9,"d":17.41},
{"t":3205,"m":18.33,"b":-4.6,"d":17.84},
{"t":3205.05,"m":17.42,"b":2,"d":16.91},
{"t":3205.1,"m":17.94,"b":5.4,"d":17.54},
{"t":3205.15,"m":16.99,"b":-2.8,"d":17.92},
{"t":3205.2,"m":17.71,"b":-0.4,"d":17.24},
{"t":3205.25,"m":18.21,"b":-6.9,"d":17.64},
{"t":3205.3,"m":17.58,"b":3.2,"d":17.13},
{"t":3205.35,"m":17.15,"b":-10.5,"d":18.1},
{"t":3205.4,"m":17.91,"b":-13.2,"d":17.33},
{"t":3205.45,"m":17.85,"b":-16.4,"d":17.43},
{"t":3205.5,"m":17.08,"b":-19.8,"d":17.07},
{"t":3195.475,"b":-17.5,"d":17.22},{"t":3195.525,"b":-14.5,"d":18.02},{"t":3195.575,"b":-11.8,"d":17.42},{"t":3195.625,"b":1.8,"d":17.73},{"t":3195.675,"b":-6.4,"d":16.93},{"t":3195.725,"b":3.3,"d":17.87},{"t":3195.775,"b":-0.2,"d":17.53},{"t":3195.825,"b":-4.9,"d":17.08},{"t":3195.875,"b":5.5,"d":18.08},{"t":3195.925,"b":-2.3,"d":17.32},
{"t":3195.975,"b":0.5,"d":17.59},{"t":3196.025,"b":-5.8,"d":16.99},{"t":3196.075,"b":4.0,"d":17.93},{"t":3196.125,"b":-0.7,"d":17.48},{"t":3196.175,"b":2.6,"d":17.8},{"t":3196.225,"b":-4.1,"d":17.15},{"t":3196.275,"b":5.9,"d":18.12},{"t":3196.325,"b":-3.0,"d":17.26},{"t":3196.375,"b":1.1,"d":17.65},{"t":3196.425,"b":-5.3,"d":17.03},
{"t":3196.475,"b":3.5,"d":17.89},{"t":3196.525,"b":-1.6,"d":17.39},{"t":3196.575,"b":-6.7,"d":16.9},{"t":3196.625,"b":2.2,"d":17.76},{"t":3196.675,"b":0.0,"d":17.55},{"t":3196.725,"b":-4.5,"d":17.11},{"t":3196.775,"b":4.5,"d":17.99},{"t":3196.825,"b":-1.0,"d":17.45},{"t":3196.875,"b":1.6,"d":17.71},{"t":3196.925,"b":-6.2,"d":16.95},
{"t":3196.975,"b":2.8,"d":17.82},{"t":3197.025,"b":-2.1,"d":17.35},{"t":3197.075,"b":5.2,"d":18.05},{"t":3197.125,"b":-3.7,"d":17.19},{"t":3197.175,"b":0.7,"d":17.62},{"t":3197.225,"b":-5.1,"d":17.05},{"t":3197.275,"b":4.2,"d":17.95},{"t":3197.325,"b":-2.5,"d":17.3},{"t":3197.375,"b":-0.4,"d":17.51},{"t":3197.425,"b":3.1,"d":17.85},
{"t":3197.475,"b":-3.4,"d":17.89},{"t":3197.525,"b":4.9,"d":17.39},{"t":3197.575,"b":-1.3,"d":16.9},{"t":3197.625,"b":1.8,"d":17.76},{"t":3197.675,"b":-6.4,"d":17.55},{"t":3197.725,"b":3.3,"d":17.11},{"t":3197.775,"b":-0.2,"d":17.99},{"t":3197.825,"b":-4.9,"d":17.45},{"t":3197.875,"b":5.5,"d":17.71},{"t":3197.925,"b":-2.3,"d":16.95},
{"t":3197.975,"b":0.5,"d":17.82},{"t":3198.025,"b":-5.8,"d":17.35},{"t":3198.075,"b":4.0,"d":18.05},{"t":3198.125,"b":-0.7,"d":17.19},{"t":3198.175,"b":2.6,"d":17.62},{"t":3198.225,"b":-4.1,"d":17.05},{"t":3198.275,"b":5.9,"d":17.95},{"t":3198.325,"b":-3.0,"d":17.3},{"t":3198.375,"b":1.1,"d":17.51},{"t":3198.425,"b":-5.3,"d":17.85},
{"t":3198.475,"b":3.5,"d":17.22},{"t":3198.525,"b":-1.6,"d":18.02},{"t":3198.575,"b":-6.7,"d":17.42},{"t":3198.625,"b":2.2,"d":17.73},{"t":3198.675,"b":0.0,"d":16.93},{"t":3198.725,"b":-4.5,"d":17.87},{"t":3198.775,"b":4.5,"d":17.53},{"t":3198.825,"b":-1.0,"d":17.08},{"t":3198.875,"b":1.6,"d":18.08},{"t":3198.925,"b":-6.2,"d":17.32},
{"t":3198.975,"b":2.8,"d":17.59},{"t":3199.025,"b":-2.1,"d":16.99},{"t":3199.075,"b":5.2,"d":17.93},{"t":3199.125,"b":-3.7,"d":17.48},{"t":3199.175,"b":0.7,"d":17.8},{"t":3199.225,"b":-5.1,"d":17.15},{"t":3199.275,"b":4.2,"d":18.12},{"t":3199.325,"b":-2.5,"d":17.26},{"t":3199.375,"b":-0.4,"d":17.65},{"t":3199.425,"b":3.1,"d":17.03},
{"t":3199.475,"b":-3.4,"d":17.22},{"t":3199.525,"b":4.9,"d":18.02},{"t":3199.575,"b":-1.3,"d":17.42},{"t":3199.625,"b":1.8,"d":17.73},{"t":3199.675,"b":-6.4,"d":16.93},{"t":3199.725,"b":3.3,"d":17.87},{"t":3199.775,"b":-0.2,"d":17.53},{"t":3199.825,"b":-4.9,"d":17.08},{"t":3199.875,"b":5.5,"d":18.08},{"t":3199.925,"b":-2.3,"d":17.32},
{"t":3199.975,"b":0.5,"d":17.59},{"t":3200.025,"b":-5.8,"d":16.99},{"t":3200.075,"b":4.0,"d":17.93},{"t":3200.125,"b":-0.7,"d":17.48},{"t":3200.175,"b":2.6,"d":17.8},{"t":3200.225,"b":-4.1,"d":17.15},{"t":3200.275,"b":5.9,"d":18.12},{"t":3200.325,"b":-3.0,"d":17.26},{"t":3200.375,"b":1.1,"d":17.65},{"t":3200.425,"b":-5.3,"d":17.03},
{"t":3200.475,"b":3.5,"d":17.89},{"t":3200.525,"b":-1.6,"d":17.39},{"t":3200.575,"b":-6.7,"d":16.9},{"t":3200.625,"b":2.2,"d":17.76},{"t":3200.675,"b":0.0,"d":17.55},{"t":3200.725,"b":-4.5,"d":17.11},{"t":3200.775,"b":4.5,"d":17.99},{"t":3200.825,"b":-1.0,"d":17.45},{"t":3200.875,"b":1.6,"d":17.71},{"t":3200.925,"b":-6.2,"d":16.95},
{"t":3200.975,"b":2.8,"d":17.82},{"t":3201.025,"b":-2.1,"d":17.35},{"t":3201.075,"b":5.2,"d":18.05},{"t":3201.125,"b":-3.7,"d":17.19},{"t":3201.175,"b":0.7,"d":17.62},{"t":3201.225,"b":-5.1,"d":17.05},{"t":3201.275,"b":4.2,"d":17.95},{"t":3201.325,"b":-2.5,"d":17.3},{"t":3201.375,"b":-0.4,"d":17.51},{"t":3201.425,"b":3.1,"d":17.85},
{"t":3201.475,"b":-3.4,"d":17.89},{"t":3201.525,"b":4.9,"d":17.39},{"t":3201.575,"b":-1.3,"d":16.9},{"t":3201.625,"b":1.8,"d":17.76},{"t":3201.675,"b":-6.4,"d":17.55},{"t":3201.725,"b":3.3,"d":17.11},{"t":3201.775,"b":-0.2,"d":17.99},{"t":3201.825,"b":-4.9,"d":17.45},{"t":3201.875,"b":5.5,"d":17.71},{"t":3201.925,"b":-2.3,"d":16.95},
{"t":3201.975,"b":0.5,"d":17.82},{"t":3202.025,"b":-5.8,"d":17.35},{"t":3202.075,"b":4.0,"d":18.05},{"t":3202.125,"b":-0.7,"d":17.19},{"t":3202.175,"b":2.6,"d":17.62},{"t":3202.225,"b":-4.1,"d":17.05},{"t":3202.275,"b":5.9,"d":17.95},{"t":3202.325,"b":-3.0,"d":17.3},{"t":3202.375,"b":1.1,"d":17.51},{"t":3202.425,"b":-5.3,"d":17.85},
{"t":3202.475,"b":3.5,"d":17.22},{"t":3202.525,"b":-1.6,"d":18.02},{"t":3202.575,"b":-6.7,"d":17.42},{"t":3202.625,"b":2.2,"d":17.73},{"t":3202.675,"b":0.0,"d":16.93},{"t":3202.725,"b":-4.5,"d":17.87},{"t":3202.775,"b":4.5,"d":17.53},{"t":3202.825,"b":-1.0,"d":17.08},{"t":3202.875,"b":1.6,"d":18.08},{"t":3202.925,"b":-6.2,"d":17.32},
{"t":3202.975,"b":2.8,"d":17.59},{"t":3203.025,"b":-2.1,"d":16.99},{"t":3203.075,"b":5.2,"d":17.93},{"t":3203.125,"b":-3.7,"d":17.48},{"t":3203.175,"b":0.7,"d":17.8},{"t":3203.225,"b":-5.1,"d":17.15},{"t":3203.275,"b":4.2,"d":18.12},{"t":3203.325,"b":-2.5,"d":17.26},{"t":3203.375,"b":-0.4,"d":17.65},{"t":3203.425,"b":3.1,"d":17.03},
{"t":3203.475,"b":-3.4,"d":17.22},{"t":3203.525,"b":4.9,"d":18.02},{"t":3203.575,"b":-1.3,"d":17.42},{"t":3203.625,"b":1.8,"d":17.73},{"t":3203.675,"b":-6.4,"d":16.93},{"t":3203.725,"b":3.3,"d":17.87},{"t":3203.775,"b":-0.2,"d":17.53},{"t":3203.825,"b":-4.9,"d":17.08},{"t":3203.875,"b":5.5,"d":18.08},{"t":3203.925,"b":-2.3,"d":17.32},
{"t":3203.975,"b":0.5,"d":17.59},{"t":3204.025,"b":-5.8,"d":16.99},{"t":3204.075,"b":4.0,"d":17.93},{"t":3204.125,"b":-0.7,"d":17.48},{"t":3204.175,"b":2.6,"d":17.8},{"t":3204.225,"b":-4.1,"d":17.15},{"t":3204.275,"b":5.9,"d":18.12},{"t":3204.325,"b":-3.0,"d":17.26},{"t":3204.375,"b":1.1,"d":17.65},{"t":3204.425,"b":-5.3,"d":17.03},
{"t":3204.475,"b":3.5,"d":17.89},{"t":3204.525,"b":-1.6,"d":17.39},{"t":3204.575,"b":-6.7,"d":16.9},{"t":3204.625,"b":2.2,"d":17.76},{"t":3204.675,"b":0.0,"d":17.55},{"t":3204.725,"b":-4.5,"d":17.11},{"t":3204.775,"b":4.5,"d":17.99},{"t":3204.825,"b":-1.0,"d":17.45},{"t":3204.875,"b":1.6,"d":17.71},{"t":3204.925,"b":-6.2,"d":16.95},
{"t":3204.975,"b":2.8,"d":17.82},{"t":3205.025,"b":-2.1,"d":17.35},{"t":3205.075,"b":5.2,"d":18.05},{"t":3205.125,"b":-3.7,"d":17.19},{"t":3205.175,"b":0.7,"d":17.62},{"t":3205.225,"b":-5.1,"d":17.05},{"t":3205.275,"b":4.2,"d":17.95},{"t":3205.325,"b":-2.5,"d":17.3},{"t":3205.375,"b":-12,"d":17.51},{"t":3205.425,"b":-15,"d":17.85},
{"t":3205.475,"b":-18,"d":17.22},
{"t":3205.42,"b":-8},{"t":3205.48,"b":-18.2},{"t":3205.52,"b":-20.6},{"t":3205.45,"b":-11.5},{"t":3205.38,"b":-6.5},{"t":3205.5,"b":-14.5},{"t":3205.4,"b":1.5},{"t":3205.45,"b":4.2},
{"t":3205.55,"m":17.7},{"t":3205.6,"m":17.5},{"t":3205.65,"m":17.8},{"t":3205.7,"m":17.55},{"t":3205.75,"m":17.7},{"t":3205.8,"m":17.5},{"t":3205.85,"m":17.65},{"t":3205.9,"m":17.45},{"t":3205.95,"m":17.6},{"t":3206,"m":17.4},{"t":3206.05,"m":17.55},{"t":3206.1,"m":17.35},{"t":3206.15,"m":17.45},{"t":3206.2,"m":17.3},{"t":3206.25,"m":17.35},{"t":3206.3,"m":17.2},{"t":3206.35,"m":17.25},{"t":3206.4,"m":17.1},{"t":3206.45,"m":17.1},{"t":3206.5,"m":16.95},{"t":3206.55,"m":16.9},{"t":3206.6,"m":16.75},{"t":3206.65,"m":16.7},{"t":3206.7,"m":16.5},{"t":3206.75,"m":16.4},{"t":3206.8,"m":16.2},{"t":3206.85,"m":16.05},{"t":3206.9,"m":15.9}
]
},
"vconcat": [
{
"width": 496.2, "height": 122.4,
"title": {"text": ["AT2023toh\u00a0\u00a0T202309242258081m201140", "20.6679g-Sloan Unclassified z= -99.0"], "anchor": "middle", "offset": 4},
"layer": [
{"data": {"name": "obs"}, "transform": [{"filter": {"field": "m", "valid": true}}],
 "mark": {"type": "point", "filled": true, "size": 34, "color": "black", "opacity": 1, "strokeWidth": 0, "clip": true},
 "encoding": {
  "x": {"field": "t", "type": "quantitative", "scale": {"domain": [3180.92, 3213.19], "nice": false, "zero": false}, "axis": null},
  "y": {"field": "m", "type": "quantitative", "title": "T mag", "scale": {"domain": [11.85, 30.46], "reverse": true, "nice": false, "zero": false}, "axis": {"values": [15, 20, 25, 30], "title": "T mag"}}
 }},
{"data": {"name": "lim"},
 "mark": {"type": "point", "shape": "triangle-up", "filled": true, "size": 60, "color": "black", "opacity": 1, "strokeWidth": 0, "clip": true},
 "encoding": {
  "x": {"field": "t", "type": "quantitative"},
  "y": {"field": "ul", "type": "quantitative", "title": "T mag"}
 }},
{"data": {"values": [{}]},
 "mark": {"type": "rule", "color": "#ff0000", "strokeWidth": 2, "strokeDash": [7.7, 3.3]},
 "encoding": {"x": {"datum": 3211.65, "type": "quantitative"}}},
{"data": {"values": [{}]},
 "mark": {"type": "text", "align": "left", "baseline": "alphabetic", "fontSize": 16.7, "font": "DejaVu Sans", "color": "black"},
 "encoding": {"x": {"datum": 3182.45, "type": "quantitative"}, "y": {"datum": 13.63, "type": "quantitative"}, "text": {"value": "s69 cam1ccd4"}}}
]
},
{
"width": 496.2, "height": 123.3,
"layer": [
{"data": {"name": "obs"}, "transform": [{"filter": {"field": "b", "valid": true}}],
 "mark": {"type": "point", "filled": true, "size": 38, "color": "#ff0000", "opacity": 1, "strokeWidth": 0, "clip": true},
 "encoding": {
  "x": {"field": "t", "type": "quantitative", "scale": {"domain": [3180.92, 3213.19], "nice": false, "zero": false}, "axis": null},
  "y": {"field": "b", "type": "quantitative", "scale": {"domain": [-22.46, 19.06], "nice": false, "zero": false}, "axis": {"values": [-20, 0], "title": ["Bkg (red)/", "bkg_model (purple)"]}}
 }},
{"data": {"name": "model"},
 "mark": {"type": "line", "color": "#bf00bf", "strokeWidth": 2, "clip": true},
 "encoding": {
  "x": {"field": "t", "type": "quantitative"},
  "y": {"field": "bm", "type": "quantitative"},
  "order": {"value": null}
 }}
]
},
{
"width": 496.2, "height": 123.3,
"data": {"name": "obs"}, "transform": [{"filter": {"field": "d", "valid": true}}],
"mark": {"type": "point", "filled": true, "size": 34, "color": "black", "opacity": 1, "strokeWidth": 0, "clip": true},
"encoding": {
 "x": {"field": "t", "type": "quantitative", "scale": {"domain": [3180.92, 3213.19], "nice": false, "zero": false}, "axis": {"values": [3185, 3190, 3195, 3200, 3205, 3210], "format": "d", "title": "BTJD \u22122\u2009457\u2009000"}},
 "y": {"field": "d", "type": "quantitative", "scale": {"domain": [12.03, 21.6], "reverse": true, "nice": false, "zero": false}, "axis": {"values": [12.5, 15, 17.5, 20], "format": ".1f", "title": ["T mag \u2212", "bkg_model"]}}
}
}
],
"config": {
 "font": "DejaVu Sans",
 "background": "white",
 "view": {"stroke": "black", "strokeWidth": 1.1},
 "concat": {"spacing": 0},
 "axis": {"domain": false, "grid": false, "ticks": true, "tickColor": "black", "tickSize": 4.9, "tickWidth": 1.1, "labelFont": "DejaVu Sans", "labelFontSize": 13.9, "labelColor": "black", "labelPadding": 4.9, "labelFlush": false, "labelOverlap": false, "titleFont": "DejaVu Sans", "titleFontSize": 13.9, "titleFontWeight": "normal", "titleColor": "black", "titlePadding": 5.6, "titleLineHeight": 16.5},
 "title": {"font": "DejaVu Sans", "fontSize": 16.7, "fontWeight": "normal", "color": "black", "lineHeight": 23.5}
}
}
